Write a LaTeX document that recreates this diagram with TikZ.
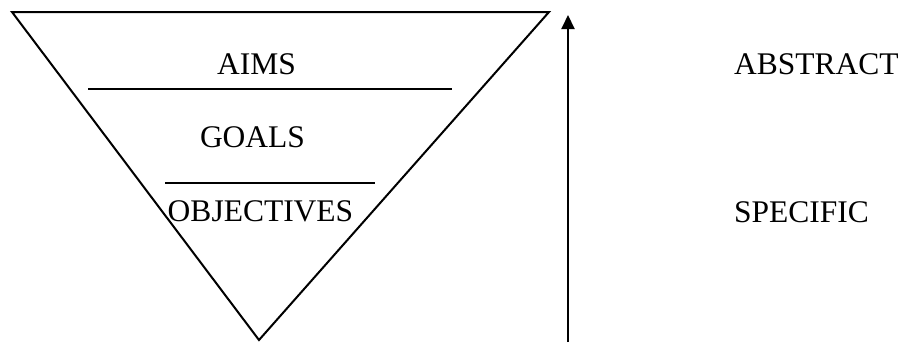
\documentclass[tikz,border=0pt]{standalone}
\usepackage{fontspec}
\setmainfont{Liberation Serif}
\usetikzlibrary{arrows.meta,positioning}

\begin{document}
\begin{tikzpicture}[
  x=1pt,y=-1pt,                      % pixel-like units, y going down
  every node/.style={inner sep=0pt,font=\fontsize{31.5}{36}\selectfont},
  level/.style={anchor=base},        % labels inside the funnel
  side/.style={anchor=base west},    % labels beside the arrow
  rule/.style={line width=2pt},
  >={Triangle[length=14pt,width=13pt]}
]
\useasboundingbox (0,0) rectangle (907,343);

% funnel
\coordinate (tl) at (12,12);
\coordinate (tr) at (549,12);
\coordinate (bot) at (259,340);
\draw[rule,line join=miter] (tl) -- (tr) -- (bot) -- cycle;

% dividers
\coordinate (aimsL) at (88,89);
\coordinate (aimsR) at (452,89);
\coordinate (objL) at (165,183);
\coordinate (objR) at (375,183);
\draw[rule] (aimsL) -- (aimsR);
\draw[rule] (objL) -- (objR);

\node[level] (aims) at (256.5,74) {AIMS};
\node[level] (goals) at (252.5,147) {GOALS};
\node[level] (objectives) at (260.5,221) {OBJECTIVES};

% scale arrow
\coordinate (low) at (568,342);
\coordinate (high) at (568,15);
\draw[rule,->] (low) -- (high);

\node[side] (abstract) at (734,74) {ABSTRACT};
\node[side] (specific) at (734,222) {SPECIFIC};
\end{tikzpicture}
\end{document}
